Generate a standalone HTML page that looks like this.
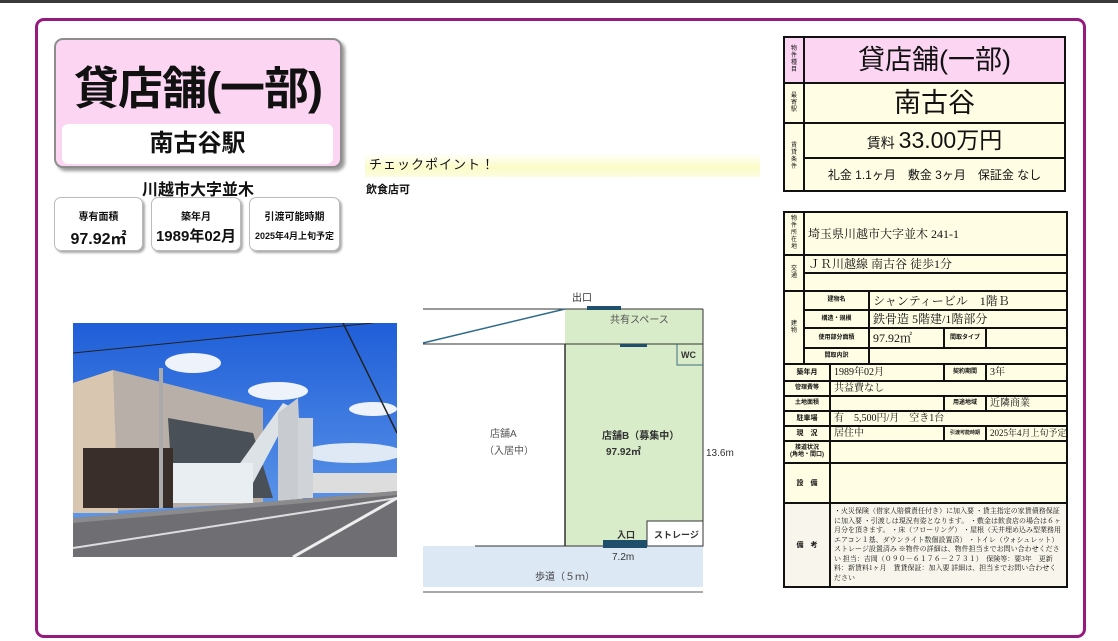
<!DOCTYPE html>
<html><head><meta charset="utf-8">
<style>
*{margin:0;padding:0;box-sizing:border-box}
body{width:1118px;height:641px;background:#fff;position:relative;overflow:hidden;font-family:"Liberation Sans","Noto Sans CJK JP",sans-serif;color:#111}
.a{position:absolute}
.frame{left:35px;top:18px;width:1051px;height:620px;border:3px solid #961b7f;border-radius:9px}
.title{left:54px;top:38px;width:288px;height:130px;background:#fcd5f3;border:2px solid #8d8d8d;border-radius:9px;box-shadow:3px 3px 3px #9a9a9a}
.title .t{position:absolute;left:0;right:0;top:12px;text-align:center;font-size:45px;font-weight:bold;white-space:nowrap;letter-spacing:-1px}
.title .s{position:absolute;left:6px;right:7px;top:84px;height:40px;background:#fff;border-radius:6px;text-align:center;font-size:24px;line-height:40px;font-weight:bold}
.box{top:197px;height:54px;background:#fff;border:1px solid #bbb;border-radius:7px;box-shadow:2px 2px 2px #aaa;text-align:center}
.box .l{font-size:10px;margin-top:10px;font-weight:bold}
.box .v{font-size:16px;font-weight:bold;margin-top:2px}
table{border-collapse:collapse;table-layout:fixed;position:absolute}
td{border:2px solid #111;background:#fffde3;padding:0;overflow:hidden;white-space:nowrap;line-height:1}
.lab{font-size:7px;text-align:center;line-height:7px;font-weight:bold}
.v1{white-space:normal;word-break:break-all;font-size:6px;line-height:7px;padding:0 6px;font-weight:normal}
.val{font-family:"Liberation Serif","Noto Serif CJK SC",serif;font-size:12px;padding-left:3px}
.val2{font-family:"Liberation Serif","Noto Serif CJK SC",serif;font-size:10px;padding-left:3px}
</style></head><body>
<div class="a" style="left:0;top:0;width:1118px;height:3px;background:#3a3a3a"></div>
<div class="a frame"></div>

<div class="a title"><div class="t">貸店舗(一部)</div><div class="s">南古谷駅</div></div>
<div class="a" style="left:54px;top:176px;width:288px;text-align:center;font-size:16px;font-weight:bold">川越市大字並木</div>
<div class="a box" style="left:54px;width:89px"><div class="l">専有面積</div><div class="v">97.92㎡</div></div>
<div class="a box" style="left:151px;width:90px"><div class="l">築年月</div><div class="v" style="font-size:15px">1989年02月</div></div>
<div class="a box" style="left:249px;width:91px"><div class="l">引渡可能時期</div><div class="v" style="font-size:9px;margin-top:6px">2025年4月上旬予定</div></div>

<div class="a" style="left:365px;top:153px;width:395px;height:24px;background:linear-gradient(#fff,#fbfbc8 60%,#fdfde0);font-size:13px;line-height:24px;padding-left:4px;letter-spacing:1px">チェックポイント！</div>
<div class="a" style="left:366px;top:181px;font-size:11px;font-weight:bold">飲食店可</div>

<svg class="a" style="left:73px;top:323px" width="324" height="234" viewBox="0 0 324 234">
<defs><linearGradient id="sky" x1="0" y1="0" x2="0" y2="1"><stop offset="0" stop-color="#1f5ed8"/><stop offset="1" stop-color="#6aa2ec"/></linearGradient></defs>
<rect width="324" height="234" fill="url(#sky)"/>
<ellipse cx="120" cy="40" rx="28" ry="10" fill="#eef3fb"/>
<ellipse cx="205" cy="68" rx="30" ry="9" fill="#eef3fb"/>
<ellipse cx="300" cy="86" rx="24" ry="7" fill="#eef3fb"/>
<ellipse cx="280" cy="130" rx="50" ry="10" fill="#dfe8f5"/>
<polygon points="0,60 40,47 190,85 190,180 0,190" fill="#b8b0a8"/>
<polygon points="0,60 40,47 45,190 0,190" fill="#d8c6b0"/>
<polygon points="95,95 180,110 200,175 100,175" fill="#4a5058"/>
<polygon points="160,150 210,80 220,85 180,160" fill="#dde2e6"/>
<polygon points="205,90 225,75 230,180 205,180" fill="#c8ccd0"/>
<rect x="225" y="95" width="15" height="80" fill="#d0d4d8"/>
<rect x="10" y="125" width="90" height="60" fill="#3a2e2a"/>
<rect x="100" y="140" width="80" height="40" fill="#e8eef2"/>
<rect x="240" y="150" width="84" height="20" fill="#ddd"/>
<rect x="86" y="45" width="4" height="140" fill="#aaa"/>
<polygon points="0,195 324,168 324,234 0,234" fill="#6f6f73"/>
<polygon points="0,195 324,168 324,172 0,200" fill="#8b8b8e"/>
<line x1="0" y1="225" x2="324" y2="175" stroke="#ddd" stroke-width="2"/>
<line x1="220" y1="234" x2="324" y2="175" stroke="#eee" stroke-width="3"/>
<line x1="0" y1="30" x2="300" y2="0" stroke="#222" stroke-width="1"/>
<line x1="270" y1="0" x2="324" y2="110" stroke="#222" stroke-width="1.5"/>
</svg>

<svg class="a" style="left:410px;top:280px" width="340" height="330" viewBox="410 280 340 330">
<rect x="565" y="309" width="138" height="237" fill="#d9ecc9"/>
<rect x="423" y="546" width="280" height="41" fill="#dce8f4"/>
<line x1="423" y1="309" x2="703" y2="309" stroke="#333" stroke-width="1"/>
<line x1="703" y1="309" x2="703" y2="546" stroke="#333" stroke-width="1"/>
<line x1="423" y1="344" x2="703" y2="344" stroke="#333" stroke-width="1"/>
<line x1="565" y1="344" x2="565" y2="546" stroke="#333" stroke-width="1.5"/>
<line x1="423" y1="343" x2="565" y2="309" stroke="#2e6b8a" stroke-width="1.5"/>
<line x1="475" y1="546" x2="703" y2="546" stroke="#333" stroke-width="1"/>
<line x1="423" y1="592" x2="703" y2="592" stroke="#555" stroke-width="1"/>
<polyline points="677,344 677,365 703,365" fill="none" stroke="#3b6f7f" stroke-width="1"/>
<rect x="647" y="521" width="56" height="25" fill="#fff" stroke="#333" stroke-width="1"/>
<rect x="587" y="306" width="34" height="4" fill="#1f4f6a"/>
<rect x="620" y="344" width="27" height="3" fill="#1f4f6a"/>
<rect x="603" y="540" width="44" height="8" fill="#1f4f6a"/>
<g font-family="Liberation Sans,Noto Sans CJK JP,sans-serif" font-size="10" fill="#333">
<text x="572" y="301">出口</text>
<text x="610" y="323" fill="#555">共有スペース</text>
<text x="681" y="358" font-weight="bold" font-size="9">WC</text>
<text x="490" y="437" fill="#555">店舗A</text>
<text x="484" y="454" fill="#555">（入居中）</text>
<text x="602" y="439" font-weight="bold">店舗B（募集中）</text>
<text x="606" y="455" font-weight="bold">97.92㎡</text>
<text x="706" y="456">13.6m</text>
<text x="617" y="538" font-weight="bold" font-size="9">入口</text>
<text x="654" y="538" font-weight="bold" font-size="9">ストレージ</text>
<text x="612" y="560">7.2m</text>
<text x="535" y="580" fill="#444">歩道（５ｍ）</text>
</g>
</svg>

<table style="left:783px;top:36px;width:283px">
<colgroup><col style="width:20px"><col></colgroup>
<tr style="height:46px"><td class="lab v1" style="background:#fcd5f3">物件種目</td><td style="background:#fcd5f3;text-align:center;font-size:27px">貸店舗(一部)</td></tr>
<tr style="height:40px"><td class="lab v1">最寄駅</td><td style="text-align:center;font-size:27px">南古谷</td></tr>
<tr style="height:35px"><td class="lab v1" rowspan="2">賃貸条件</td><td style="text-align:center;font-size:14px">賃料 <span style="font-size:23px">33.00万円</span></td></tr>
<tr style="height:33px"><td style="text-align:center;font-size:12px">礼金 1.1ヶ月　敷金 3ヶ月　保証金 なし</td></tr>
</table>

<table style="left:783px;top:211px;width:283px">
<colgroup><col style="width:20px"><col style="width:26px"><col style="width:39px"><col style="width:75px"><col style="width:42px"><col style="width:81px"></colgroup>
<tr style="height:43px"><td class="lab v1">物件所在地</td><td colspan="5" class="val">埼玉県川越市大字並木 241-1</td></tr>
<tr style="height:18px"><td class="lab v1" rowspan="2">交通</td><td colspan="5" class="val">ＪＲ川越線 南古谷 徒歩1分</td></tr>
<tr style="height:18px"><td colspan="5"></td></tr>
<tr style="height:19px"><td class="lab v1" rowspan="4">建物</td><td colspan="2" class="lab" style="font-size:6px">建物名</td><td colspan="3" class="val">シャンティービル　1階Ｂ</td></tr>
<tr style="height:18px"><td colspan="2" class="lab" style="font-size:6px">構造・規模</td><td colspan="3" class="val">鉄骨造 5階建/1階部分</td></tr>
<tr style="height:20px"><td colspan="2" class="lab" style="font-size:6px">使用部分面積</td><td class="val">97.92㎡</td><td class="lab" style="font-size:6px">間取タイプ</td><td></td></tr>
<tr style="height:16px"><td colspan="2" class="lab" style="font-size:6px">間取内訳</td><td colspan="3"></td></tr>
<tr style="height:17px"><td colspan="2" class="lab">築年月</td><td colspan="2" class="val2">1989年02月</td><td class="lab" style="font-size:6px">契約期間</td><td class="val2">3年</td></tr>
<tr style="height:15px"><td colspan="2" class="lab" style="font-size:6px">管理費等</td><td colspan="4" class="val2">共益費なし</td></tr>
<tr style="height:15px"><td colspan="2" class="lab" style="font-size:6px">土地面積</td><td colspan="2"></td><td class="lab" style="font-size:6px">用途地域</td><td class="val2">近隣商業</td></tr>
<tr style="height:15px"><td colspan="2" class="lab">駐車場</td><td colspan="4" class="val2">有　5,500円/月　空き1台</td></tr>
<tr style="height:15px"><td colspan="2" class="lab">現　況</td><td colspan="2" class="val2">居住中</td><td class="lab" style="font-size:5px;white-space:normal;line-height:5px">引渡可能時期</td><td class="val2" style="font-size:9px">2025年4月上旬予定</td></tr>
<tr style="height:22px"><td colspan="2" class="lab" style="font-size:6px">接道状況<br>(角地・間口)</td><td colspan="4"></td></tr>
<tr style="height:40px"><td colspan="2" class="lab">設　備</td><td colspan="4"></td></tr>
<tr style="height:84px"><td colspan="2" class="lab" style="background:#f8f6ec">備　考</td><td colspan="4" style="background:#f8f6ec;white-space:normal;font-family:'Liberation Serif','Noto Serif CJK SC',serif;font-size:7px;line-height:9.5px;padding:1px 3px">・火災保険（借家人賠償責任付き）に加入要 ・貸主指定の家賃債務保証に加入要 ・引渡しは現況有姿となります。 ・敷金は飲食店の場合は６ヶ月分を頂きます。 ・床（フローリング） ・屋根（天井埋め込み型業務用エアコン１基、ダウンライト数個設置済） ・トイレ（ウォシュレット）ストレージ設置済み ※物件の詳細は、物件担当までお問い合わせください 担当：吉岡（０９０－６１７６－２７３１）　保険等：要3年　更新料：新賃料1ヶ月　賃貸保証：加入要 詳細は、担当までお問い合わせください</td></tr>
</table>
</body></html>
